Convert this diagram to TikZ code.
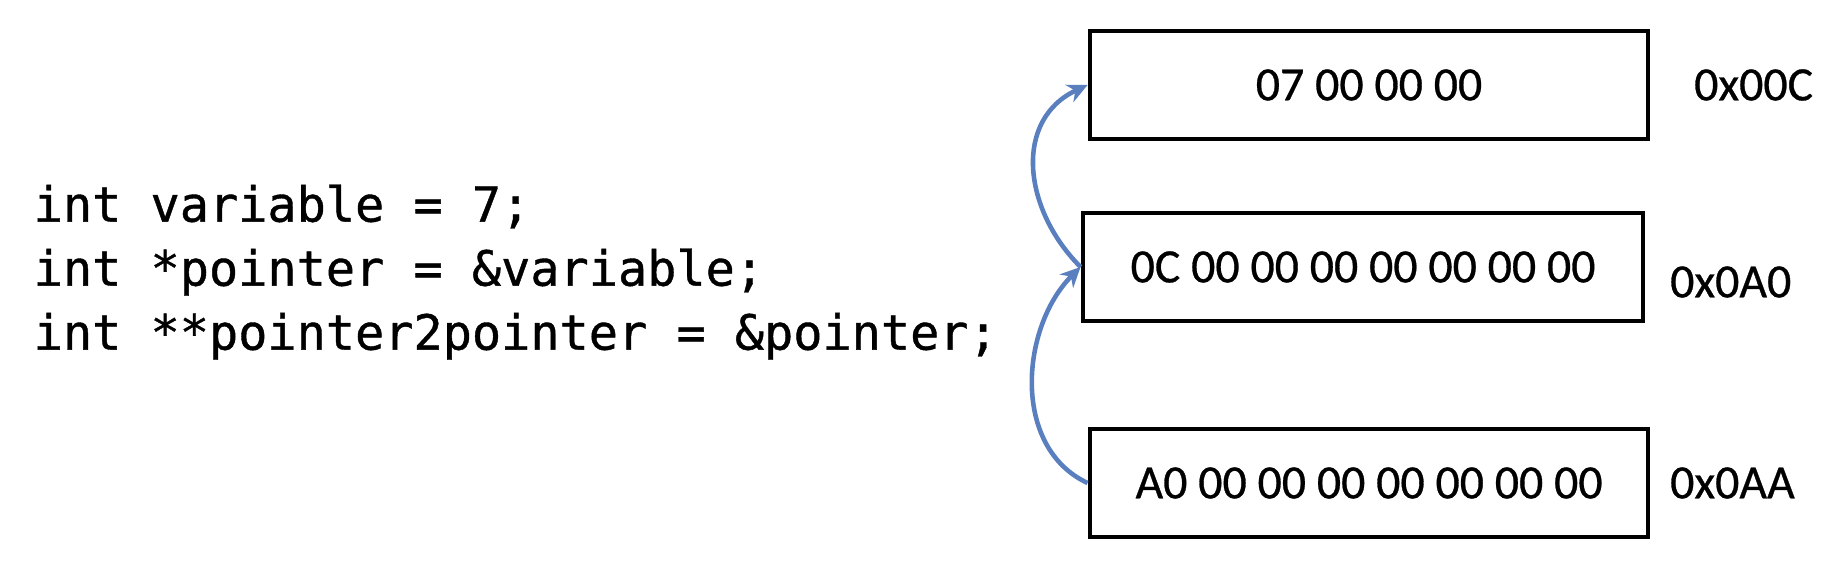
\documentclass[tikz,border=0pt]{standalone}
\usepackage{fontspec}
\setmainfont{Carlito}[FakeBold=0.6]
\setmonofont{DejaVu Sans Mono}[FakeBold=0.8]
\usetikzlibrary{positioning, arrows.meta}
\definecolor{ptrblue}{HTML}{5A7FBF}

\begin{document}
\begin{tikzpicture}[x=0.01cm, y=-0.01cm, font=\fontsize{13.6}{16}\selectfont,
    memcell/.style={draw, line width=1.3pt, minimum width=5.58cm, minimum height=1.08cm, inner sep=0pt},
    addr/.style={inner sep=0pt, anchor=west},
    codeline/.style={inner sep=0pt, anchor=west, text height=0.75em, text depth=0.2em, font=\ttfamily\fontsize{13.8}{16}\selectfont},
    ptr/.style={->, >={Stealth[length=2mm, width=1.9mm]}, ptrblue, line width=1.3pt}]
  \useasboundingbox (0,0) rectangle (1822,568);

  % code
  \node[codeline] (c1) at (33,212) {int variable = 7;};
  \node[codeline] (c2) at (33,276) {int *pointer = \&variable;};
  \node[codeline] (c3) at (33,340) {int **pointer2pointer = \&pointer;};

  % memory
  \node[memcell] (m1) at (1369,85) {07 00 00 00};
  \node[memcell, minimum width=5.6cm] (m2) at (1363,267) {0C 00 00 00 00 00 00 00};
  \node[memcell] (m3) at (1369,483) {A0 00 00 00 00 00 00 00};

  \node[addr, right=0.43cm of m1.east] (a1) {0x00C};
  \node[addr, right=0.24cm of m2.east, yshift=-0.15cm] (a2) {0x0A0};
  \node[addr, right=0.19cm of m3.east] (a3) {0x0AA};

  \draw[ptr] (m2.west) to[out=135, in=205, looseness=1.15] (m1.west);
  \draw[ptr] (m3.west) to[out=155, in=225] (m2.west);
\end{tikzpicture}
\end{document}
